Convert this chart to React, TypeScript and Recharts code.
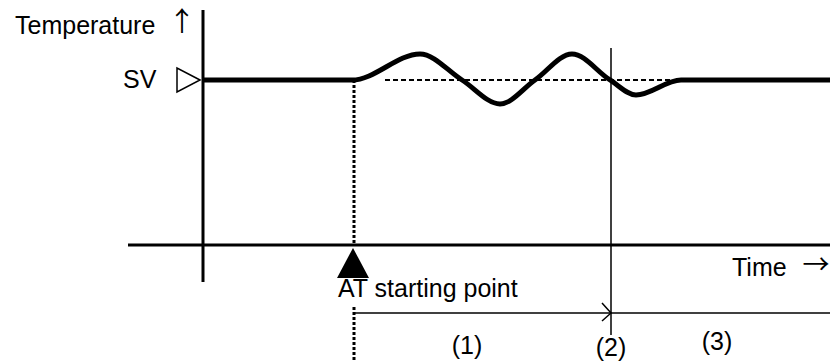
import { LineChart, Line, XAxis, YAxis, ReferenceLine, ReferenceDot } from 'recharts'

// time (t) and temperature (v) in diagram units, SV = 100, time axis at v = 0
const curveT = [0, 149, 217, 259, 297, 332, 369, 407, 433, 478, 627]
const curveV = [100, 100, 115.8, 100, 85.5, 100, 115.8, 100, 90.9, 100, 100]
const curve = curveT.map((t, i) => ({ t, v: curveV[i] }))

const SV = 100
const atStart = 151
const stageEnd = 408
const stageLevel = -41.2

const textLabels = [
  { text: 'Temperature', t: -188, v: 127.9, anchor: 'start' },
  { text: 'SV', t: -80, v: 95.2, anchor: 'start' },
  { text: 'Time', t: 529, v: -18.8, anchor: 'start' },
  { text: 'AT starting point', t: 135, v: -31.5, anchor: 'start' },
  { text: '(1)', t: 264, v: -66, anchor: 'middle' },
  { text: '(2)', t: 408, v: -67.3, anchor: 'middle' },
  { text: '(3)', t: 514, v: -63.6, anchor: 'middle' },
]

const arrowLabels = [
  { text: '↑', t: -21, v: 129.5 },
  { text: '→', t: 613, v: -17.5 },
]

const FONT = '"Liberation Sans", Arial, sans-serif'
const ARROW_FONT = '"Noto Sans CJK JP", "DejaVu Sans", sans-serif'

const TextShape = (label: { text: string; anchor: string }) => (props: any) => (
  <text
    x={props.cx}
    y={props.cy}
    textAnchor={label.anchor as any}
    fontFamily={FONT}
    fontSize={25}
    fill="#000"
  >
    {label.text}
  </text>
)

const ArrowShape = (label: { text: string }) => (props: any) => (
  <text
    x={props.cx}
    y={props.cy}
    textAnchor="middle"
    fontFamily={ARROW_FONT}
    fontSize={27}
    fill="#000"
  >
    {label.text}
  </text>
)

const FilledTriangle = (props: any) => {
  const { cx, cy } = props
  return <polygon points={`${cx},${cy} ${cx - 16},${cy + 30} ${cx + 16},${cy + 30}`} fill="#000" />
}

const HollowTriangle = (props: any) => {
  const { cx, cy } = props
  return (
    <polygon
      points={`${cx},${cy} ${cx - 23},${cy - 12} ${cx - 23},${cy + 12}`}
      fill="#fff"
      stroke="#000"
      strokeWidth={1.5}
    />
  )
}

const Chevron = (props: any) => {
  const { cx, cy } = props
  return (
    <polyline
      points={`${cx - 9},${cy - 10} ${cx},${cy} ${cx - 9},${cy + 8}`}
      fill="none"
      stroke="#000"
      strokeWidth={1.5}
    />
  )
}

export default function App() {
  return (
    <div style={{ width: 830, height: 361 }}>
      <style>{'body{margin:0}'}</style>
      <LineChart width={830} height={361} margin={{ top: 0, right: 0, bottom: 0, left: 0 }}>
        <XAxis type="number" dataKey="t" domain={[-203, 627]} allowDataOverflow hide />
        <YAxis type="number" dataKey="v" domain={[-70.3, 148.48]} allowDataOverflow hide />

        {/* axes */}
        <ReferenceLine segment={[{ x: 0, y: 142.4 }, { x: 0, y: -22.4 }]} stroke="#000" strokeWidth={3} ifOverflow="visible" />
        <ReferenceLine segment={[{ x: -75, y: 0 }, { x: 627, y: 0 }]} stroke="#000" strokeWidth={3} ifOverflow="visible" />

        {/* SV dashed reference and AT start markers */}
        <ReferenceLine segment={[{ x: 182, y: SV }, { x: 470, y: SV }]} stroke="#000" strokeWidth={2} strokeDasharray="5 3" ifOverflow="visible" />
        <ReferenceLine segment={[{ x: atStart, y: SV }, { x: atStart, y: 0 }]} stroke="#000" strokeWidth={3} strokeDasharray="3 2" ifOverflow="visible" />
        <ReferenceLine segment={[{ x: atStart, y: -37.6 }, { x: atStart, y: -70.3 }]} stroke="#000" strokeWidth={3} strokeDasharray="3 2" ifOverflow="visible" />

        {/* stage lines */}
        <ReferenceLine segment={[{ x: stageEnd, y: 119.4 }, { x: stageEnd, y: -54.5 }]} stroke="#000" strokeWidth={1.5} ifOverflow="visible" />
        <ReferenceLine segment={[{ x: atStart + 1, y: stageLevel }, { x: 627, y: stageLevel }]} stroke="#000" strokeWidth={1.5} ifOverflow="visible" />

        <Line
          data={curve}
          dataKey="v"
          type="monotone"
          stroke="#000"
          strokeWidth={5}
          dot={false}
          activeDot={false}
          isAnimationActive={false}
        />

        <ReferenceDot x={atStart - 1} y={-1.8} r={0} shape={FilledTriangle} ifOverflow="visible" />
        <ReferenceDot x={-3} y={SV} r={0} shape={HollowTriangle} ifOverflow="visible" />
        <ReferenceDot x={stageEnd} y={stageLevel} r={0} shape={Chevron} ifOverflow="visible" />

        {textLabels.map((l) => (
          <ReferenceDot key={l.text} x={l.t} y={l.v} r={0} shape={TextShape(l)} ifOverflow="visible" />
        ))}
        {arrowLabels.map((l) => (
          <ReferenceDot key={l.text} x={l.t} y={l.v} r={0} shape={ArrowShape(l)} ifOverflow="visible" />
        ))}
      </LineChart>
    </div>
  )
}
